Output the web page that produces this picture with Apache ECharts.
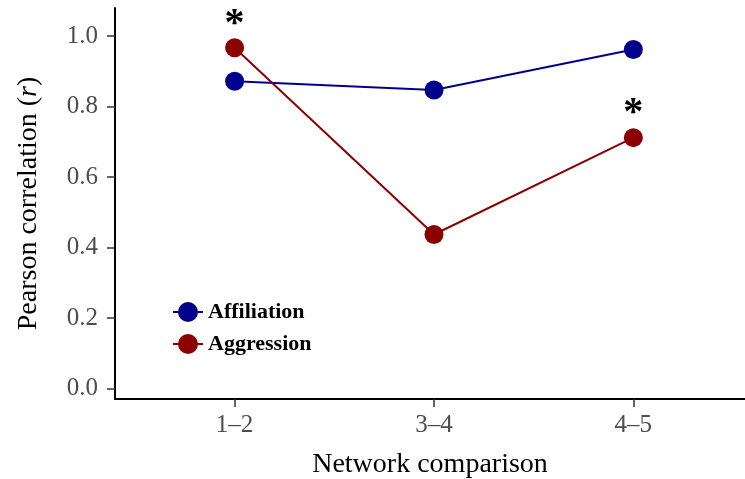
<!DOCTYPE html>
<html>
<head>
<meta charset="utf-8">
<script src="https://cdn.jsdelivr.net/npm/echarts@6/dist/echarts.min.js"></script>
<style>html,body{margin:0;padding:0;background:#fff;}#c{width:745px;height:479px;}</style>
</head>
<body>
<div id="c"></div>
<script>
var categories = ['1\u20132', '3\u20134', '4\u20135'];
var affiliation = [0.872, 0.847, 0.962];
var aggression = [0.967, 0.437, 0.712];
var aggressionSignificant = [true, false, true];
var yTicks = [0, 0.2, 0.4, 0.6, 0.8, 1.0];
var xTicks = [1, 2, 3];

var serif = '"Liberation Serif", "DejaVu Serif", serif';
var chart = echarts.init(document.getElementById('c'), null, {renderer: 'canvas'});

function pts(arr) { return arr.map(function (v, i) { return [i + 1, v]; }); }

chart.setOption({
  animation: false,
  backgroundColor: '#fff',
  grid: {left: 115, right: 0, top: 8, bottom: 80, containLabel: false, outerBoundsMode: 'none'},
  xAxis: {
    type: 'value', min: 0.4, max: 3.56,
    name: 'Network comparison', nameLocation: 'middle', nameGap: 52,
    nameTextStyle: {fontFamily: serif, fontSize: 28, color: '#000'},
    axisLine: {onZero: false, lineStyle: {color: '#000', width: 2}},
    axisTick: {show: true, length: 8, customValues: xTicks, lineStyle: {color: '#333', width: 1.5}},
    axisLabel: {customValues: xTicks, margin: 14, fontFamily: serif, fontSize: 25, color: '#4d4d4d',
      formatter: function (v) { return categories[Math.round(v) - 1] || ''; }},
    splitLine: {show: false}
  },
  yAxis: {
    type: 'value', min: -0.03, max: 1.08,
    name: 'Pearson correlation ({i|r})', nameLocation: 'middle', nameGap: 72,
    nameTextStyle: {fontFamily: serif, fontSize: 28, color: '#000',
      rich: {i: {fontFamily: serif, fontSize: 28, fontStyle: 'italic', color: '#000'}}},
    axisLine: {show: true, onZero: false, lineStyle: {color: '#000', width: 2}},
    axisTick: {show: true, length: 8, customValues: yTicks, lineStyle: {color: '#333', width: 1.5}},
    axisLabel: {customValues: yTicks, margin: 17, fontFamily: serif, fontSize: 25, color: '#4d4d4d',
      formatter: function (v) { return v.toFixed(1); }},
    splitLine: {show: false}
  },
  legend: {
    orient: 'vertical', left: 167, top: 296, itemWidth: 30, itemHeight: 25, itemGap: 10,
    textStyle: {fontFamily: serif, fontSize: 22, fontWeight: 'bold', color: '#000'},
    data: ['Affiliation', 'Aggression']
  },
  series: [
    {
      name: 'Affiliation', type: 'line', data: pts(affiliation),
      symbol: 'circle', symbolSize: 19, color: '#00008b',
      lineStyle: {color: '#00008b', width: 2}, itemStyle: {color: '#00008b'}
    },
    {
      name: 'Aggression', type: 'line', data: pts(aggression),
      symbol: 'circle', symbolSize: 19, color: '#8b0000',
      lineStyle: {color: '#8b0000', width: 2}, itemStyle: {color: '#8b0000'},
      label: {
        show: true, position: 'top', distance: -6,
        fontFamily: serif, fontSize: 40, fontWeight: 'bold', color: '#000',
        formatter: function (p) { return aggressionSignificant[p.dataIndex] ? '*' : ''; }
      }
    }
  ]
});
</script>
</body>
</html>
